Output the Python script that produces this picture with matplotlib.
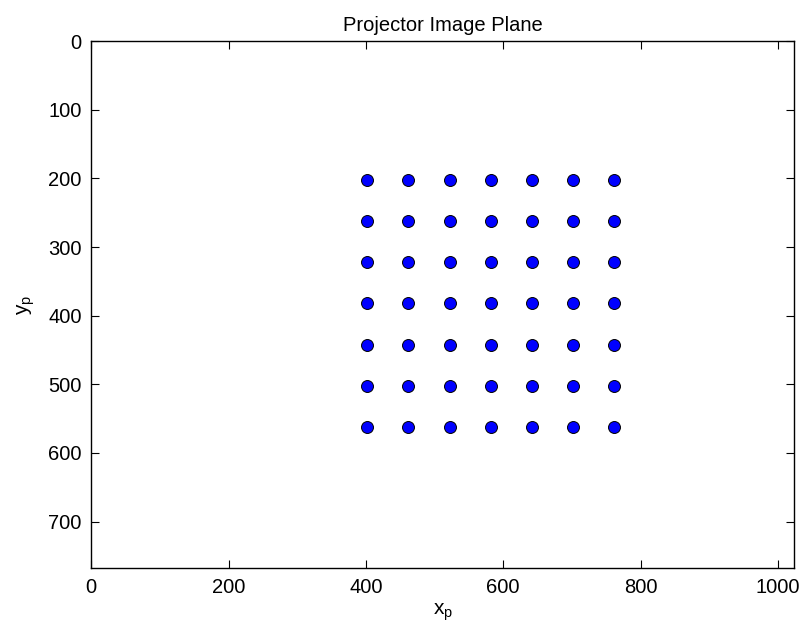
import numpy as np
import matplotlib
matplotlib.use('Agg')
import matplotlib.pyplot as plt

# projector grid points (pixels)
xs = [402, 462, 522, 582, 642, 702, 762]
ys = [202, 262, 322, 382, 442, 502, 562]
xticks = [0, 200, 400, 600, 800, 1000]
yticks = [0, 100, 200, 300, 400, 500, 600, 700]

plt.rcParams['font.family'] = ['Liberation Sans', 'DejaVu Sans']
plt.rcParams['font.size'] = 14.5

gx, gy = np.meshgrid(xs, ys)

fig = plt.figure(figsize=(8.05, 6.4), dpi=100)
ax = fig.add_axes([91.3/805, 1-568.3/640, 703/805, 527.2/640])
ax.plot(gx.ravel(), gy.ravel(), 'o', color='blue', markeredgecolor='black',
        markersize=8.6, markeredgewidth=0.7, linestyle='none')

ax.set_xlim(0, 1024)
ax.set_ylim(768, 0)
ax.set_xticks(xticks)
ax.set_yticks(yticks)
ax.tick_params(direction='in', length=6, width=0.8, top=True, right=True, pad=7)
for s in ax.spines.values():
    s.set_linewidth(1.0)

ax.set_title('Projector Image Plane', fontsize=14.5, pad=7)
ax.set_xlabel('x$_\\mathregular{p}$', fontsize=15, labelpad=3)
ax.set_ylabel('y$_\\mathregular{p}$', fontsize=15, labelpad=8)

fig.savefig('out.png', dpi=100)
